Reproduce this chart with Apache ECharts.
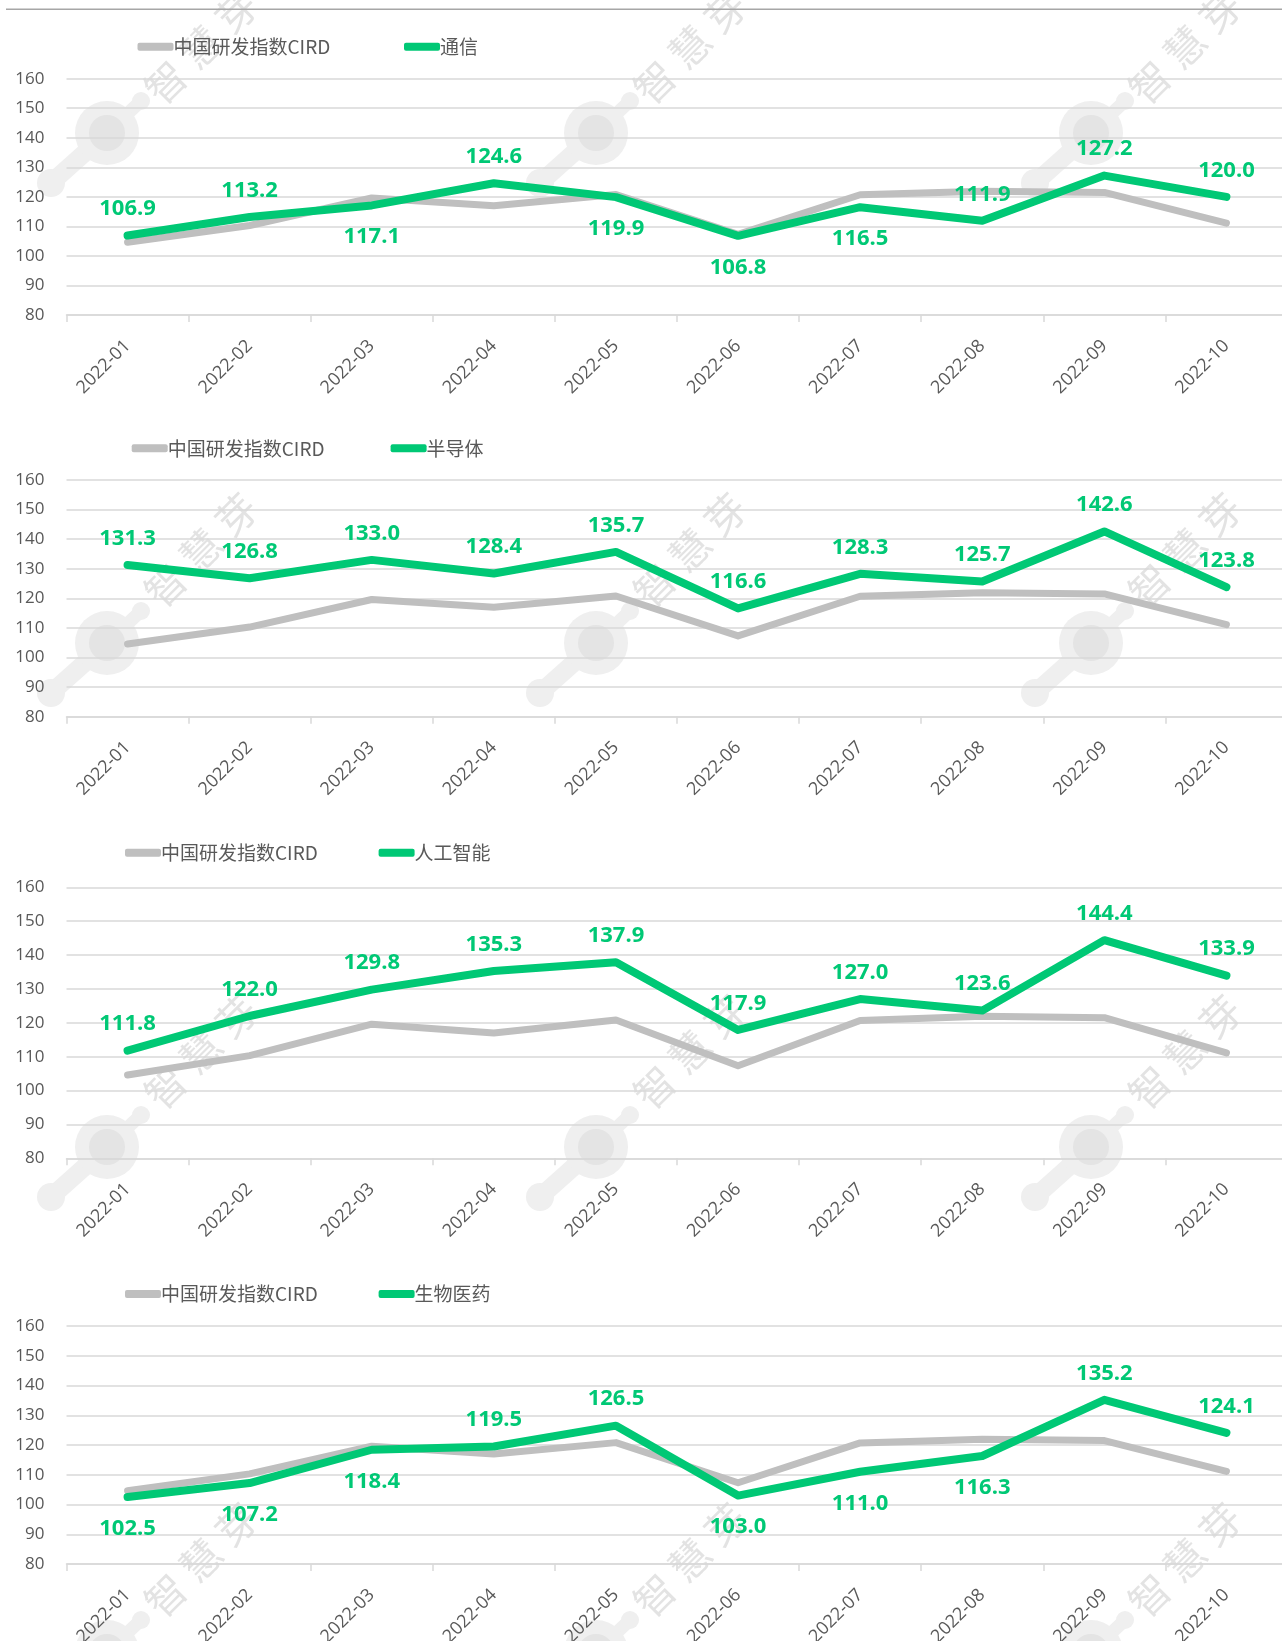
<!DOCTYPE html>
<html>
<head>
<meta charset="utf-8">
<script src="https://cdn.jsdelivr.net/npm/echarts@6/dist/echarts.min.js"></script>
<style>
html,body{margin:0;padding:0;background:#fff;}
#main{width:1282px;height:1641px;}
</style>
</head>
<body>
<div id="main"></div>
<script>
// ---- data ----
const categories = ['2022-01','2022-02','2022-03','2022-04','2022-05','2022-06','2022-07','2022-08','2022-09','2022-10'];
const cirdName = '中国研发指数CIRD';
const cird = [104.6, 110.3, 119.6, 117.0, 120.8, 107.3, 120.7, 121.9, 121.5, 111.1];
const industryNames = ['通信', '半导体', '人工智能', '生物医药'];
const tongxin   = [106.9, 113.2, 117.1, 124.6, 119.9, 106.8, 116.5, 111.9, 127.2, 120.0];
const bandaoti  = [131.3, 126.8, 133.0, 128.4, 135.7, 116.6, 128.3, 125.7, 142.6, 123.8];
const rengong   = [111.8, 122.0, 129.8, 135.3, 137.9, 117.9, 127.0, 123.6, 144.4, 133.9];
const shengwu   = [102.5, 107.2, 118.4, 119.5, 126.5, 103.0, 111.0, 116.3, 135.2, 124.1];
const yMin = 80, yMax = 160, yStep = 10;

// ---- styling / layout (not data) ----
const industryData = [tongxin, bandaoti, rengong, shengwu];
const labelSides = [
  ['top','top','bottom','top','bottom','bottom','bottom','top','top','top'],
  ['top','top','top','top','top','top','top','top','top','top'],
  ['top','top','top','top','top','top','top','top','top','top'],
  ['bottom','bottom','bottom','top','top','bottom','bottom','bottom','top','top']
];
const GREEN = '#00C875';
const GRAY = '#BFBFBF';
const TXT = '#595959';
const FONT = '"Open Sans","Noto Sans CJK SC",sans-serif';
const gridTops = [78.7, 480, 887.3, 1326];
const gridHeights = [236.3, 236.7, 271, 238];
const legendY = [46.7, 448.3, 852.7, 1294];
const legendGrayX = [137.5, 131.7, 125, 125];
const legendGreenX = [404, 390.6, 378.6, 378.6];

const grids = [], xAxes = [], yAxes = [], series = [], legends = [];
for (let i = 0; i < 4; i++) {
  grids.push({left: 66.5, width: 1221, top: gridTops[i], height: gridHeights[i], containLabel: false, outerBoundsMode: 'none'});
  xAxes.push({
    type: 'category', gridIndex: i, data: categories, boundaryGap: true,
    axisLine: {show: true, lineStyle: {color: '#D9D9D9', width: 1.5}},
    axisTick: {show: true, length: 7, lineStyle: {color: '#D9D9D9', width: 1.5}},
    axisLabel: {rotate: 45, interval: 0, margin: 28, color: TXT, fontSize: 18, fontFamily: FONT}
  });
  yAxes.push({
    type: 'value', gridIndex: i, min: yMin, max: yMax, interval: yStep,
    axisLine: {show: false}, axisTick: {show: false},
    axisLabel: {color: TXT, fontSize: 17, fontFamily: FONT, margin: 22},
    splitLine: {lineStyle: {color: '#D9D9D9', width: 1.5}}
  });
  series.push({
    name: cirdName, type: 'line', xAxisIndex: i, yAxisIndex: i, data: cird,
    showSymbol: false, symbol: 'none', color: GRAY,
    itemStyle: {color: GRAY},
    lineStyle: {color: GRAY, width: 7, cap: 'round', join: 'round'},
    z: 2, animation: false
  });
  const sides = labelSides[i];
  series.push({
    name: industryNames[i], type: 'line', xAxisIndex: i, yAxisIndex: i,
    data: industryData[i].map((v, k) => ({value: v, label: {position: sides[k], distance: sides[k] === 'top' ? 15 : 20}})),
    symbol: 'circle', symbolSize: 1, showSymbol: true, color: GREEN,
    itemStyle: {color: GREEN},
    lineStyle: {color: GREEN, width: 8, cap: 'round', join: 'round'},
    label: {show: true, color: GREEN, fontSize: 22, fontWeight: 'bold', fontFamily: FONT,
      formatter: p => Number(p.value).toFixed(1)},
    z: 3, animation: false
  });
  const legText = {color: TXT, fontSize: 19, lineHeight: 20, fontFamily: '"Noto Sans CJK SC","Open Sans",sans-serif', padding: [0, 0, 0, -5]};
  legends.push({
    data: [cirdName], left: legendGrayX[i], top: legendY[i] - 10, padding: 0,
    icon: 'roundRect', itemWidth: 36, itemHeight: 8, textStyle: legText, selectedMode: false
  });
  legends.push({
    data: [industryNames[i]], left: legendGreenX[i], top: legendY[i] - 10, padding: 0,
    icon: 'roundRect', itemWidth: 36, itemHeight: 8, textStyle: legText, selectedMode: false
  });
}

// watermark decoration
const graphics = [];
graphics.push({type: 'line', shape: {x1: 6, y1: 9.3, x2: 1282, y2: 9.3}, style: {stroke: '#A6A6A6', lineWidth: 1.5}, z: -1});
const wmX = [107, 596, 1091];
const wmY = [133, 643, 1147, 1652];
const txtY = [47, 550, 1052, 1560];
for (let r = 0; r < 4; r++) {
  for (let c = 0; c < 3; c++) {
    const cx = wmX[c], cy = wmY[r];
    graphics.push({type: 'line', shape: {x1: cx, y1: cy, x2: cx + 34, y2: cy - 32}, style: {stroke: '#EFEFEF', lineWidth: 13, lineCap: 'round'}, z: -3, silent: true});
    graphics.push({type: 'line', shape: {x1: cx, y1: cy, x2: cx - 56, y2: cy + 50}, style: {stroke: '#EFEFEF', lineWidth: 18, lineCap: 'round'}, z: -3, silent: true});
    graphics.push({type: 'circle', shape: {cx: cx, cy: cy, r: 32}, style: {fill: '#EFEFEF'}, z: -3, silent: true});
    graphics.push({type: 'circle', shape: {cx: cx + 34, cy: cy - 32, r: 9}, style: {fill: '#EFEFEF'}, z: -3, silent: true});
    graphics.push({type: 'circle', shape: {cx: cx - 56, cy: cy + 50, r: 14}, style: {fill: '#EFEFEF'}, z: -3, silent: true});
    graphics.push({type: 'circle', shape: {cx: cx, cy: cy, r: 18}, style: {fill: '#E4E4E4'}, z: -2, silent: true});
    const chars = ['智', '慧', '芽'];
    graphics.push({
      type: 'group', x: cx + 94, y: txtY[r], rotation: Math.PI / 4, z: -2, silent: true,
      children: chars.map((ch, k) => ({
        type: 'text', x: (k - 1) * 50, y: 0, z: -2,
        style: {text: ch, fill: '#E3E3E3', font: '40px "Noto Sans CJK SC"', textAlign: 'center', textVerticalAlign: 'middle'}
      }))
    });
  }
}

const chart = echarts.init(document.getElementById('main'), null, {renderer: 'canvas'});
chart.setOption({
  backgroundColor: '#fff',
  animation: false,
  grid: grids, xAxis: xAxes, yAxis: yAxes, legend: legends, series: series,
  graphic: {elements: graphics}
});
</script>
</body>
</html>
